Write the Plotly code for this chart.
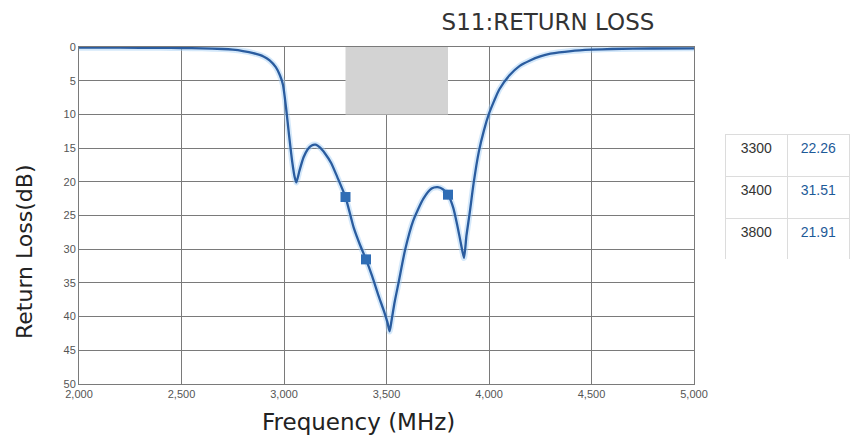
import plotly.graph_objects as go

# ---- data ----
freq_mhz = [2000, 2200, 2400, 2500, 2600, 2700, 2750, 2800, 2850, 2900, 2930, 2960,
            2980, 2995, 3010, 3025, 3040, 3052, 3060, 3075, 3095, 3115, 3135, 3155,
            3175, 3200, 3230, 3260, 3300, 3340, 3370, 3400, 3430, 3460, 3490, 3505,
            3515, 3525, 3540, 3560, 3590, 3630, 3680, 3720, 3750, 3775, 3800, 3825,
            3845, 3862, 3878, 3890, 3905, 3925, 3950, 3975, 4000, 4025, 4050, 4100,
            4150, 4200, 4250, 4300, 4400, 4500, 4600, 4800, 5000]
return_loss_db = [0.1, 0.1, 0.12, 0.15, 0.2, 0.3, 0.4, 0.6, 0.9, 1.4, 2.0, 3.0,
                  4.2, 5.6, 9.0, 13.2, 17.0, 19.3, 20.1, 18.4, 16.4, 15.2, 14.6, 14.5,
                  14.9, 15.8, 17.2, 19.3, 22.26, 26.8, 29.3, 31.51, 34.0, 36.8, 39.4, 40.9,
                  42.2, 40.5, 37.8, 34.8, 30.2, 25.8, 22.5, 21.0, 20.8, 21.1, 21.91, 23.8,
                  26.4, 29.0, 31.3, 28.0, 24.8, 20.2, 15.6, 12.4, 9.9, 8.0, 6.3, 4.2,
                  2.8, 2.0, 1.4, 1.0, 0.6, 0.4, 0.3, 0.22, 0.2]

marker_freq = [3300, 3400, 3800]
marker_db = [22.26, 31.51, 21.91]

band_freq = [3300, 3800]
band_db = [0, 10]

x_ticks = [2000, 2500, 3000, 3500, 4000, 4500, 5000]
y_ticks = [0, 5, 10, 15, 20, 25, 30, 35, 40, 45, 50]

# ---- geometry (page pixels; body margin removed via post_script) ----
W, H = 850, 437
L, T = 79, 47
B = H - 384
R = 0
pw = W - L - R
ph = H - T - B
x_dom_end = (694 - L) / pw

def px_x(p):
    return (p - L) / pw

def px_y(p):
    return (H - B - p) / ph

LINE_COLOR = "#2a5c9f"
GRID = "#7a7a7a"

fig = go.Figure()

# band shading
fig.add_shape(type="rect", xref="x", yref="y",
              x0=band_freq[0], x1=band_freq[1], y0=band_db[0], y1=band_db[1],
              fillcolor="#d3d3d3", line=dict(width=0), layer="above")

# glow behind the line
fig.add_trace(go.Scatter(x=freq_mhz, y=return_loss_db, mode="lines",
                         line=dict(color="rgba(160,205,245,0.45)", width=6, shape="spline", smoothing=0.6),
                         hoverinfo="skip", showlegend=False))
fig.add_trace(go.Scatter(x=freq_mhz, y=return_loss_db, mode="lines",
                         line=dict(color=LINE_COLOR, width=2.3, shape="spline", smoothing=0.6),
                         name="S11", showlegend=False))
fig.add_trace(go.Scatter(x=marker_freq, y=marker_db, mode="markers",
                         marker=dict(symbol="square", size=10, color="#2f6db5"),
                         name="markers", showlegend=False))

# table of marker values
row_h = 42
tbl_top = 134
fig.add_trace(go.Table(
    domain=dict(x=[px_x(725), 1.0], y=[px_y(tbl_top + 3 * row_h), px_y(tbl_top)]),
    columnwidth=[63, 62],
    header=dict(values=[str(marker_freq[0]), f"{marker_db[0]:.2f}"],
                fill_color="white", line_color="#dcdcdc", height=row_h,
                align="center",
                font=dict(family="Liberation Sans, Arial", size=14, color=["#333333", "#1d5a98"])),
    cells=dict(values=[[str(f) for f in marker_freq[1:]], [f"{v:.2f}" for v in marker_db[1:]]],
               fill_color="white", line_color="#dcdcdc", height=row_h,
               align="center",
               font=dict(family="Liberation Sans, Arial", size=14, color=["#333333", "#1d5a98"])),
))

fig.update_layout(
    width=W, height=H,
    margin=dict(l=L, r=R, t=T, b=B, autoexpand=False),
    paper_bgcolor="white", plot_bgcolor="white",
    showlegend=False,
    title=dict(text="S11:RETURN LOSS", x=548 / W, xanchor="center",
               y=1 - 22 / H, yanchor="middle",
               font=dict(family="DejaVu Sans", size=23, color="#333333")),
    xaxis=dict(domain=[0, x_dom_end], range=[2000, 5000], tickvals=x_ticks,
               tickformat=",d", showgrid=True, gridcolor=GRID, gridwidth=1,
               showline=True, linecolor=GRID, linewidth=1, mirror=True,
               zeroline=False, ticks="",
               tickfont=dict(family="Liberation Sans, Arial", size=11, color="#555555")),
    yaxis=dict(range=[50, 0], tickvals=y_ticks, showgrid=True, gridcolor=GRID, gridwidth=1,
               showline=True, linecolor=GRID, linewidth=1, mirror=True,
               zeroline=False, ticks="",
               tickfont=dict(family="Liberation Sans, Arial", size=11, color="#555555")),
    annotations=[
        dict(text="Frequency (MHz)", xref="paper", yref="paper",
             x=px_x(358), y=px_y(422), xanchor="center", yanchor="middle",
             showarrow=False, font=dict(family="DejaVu Sans", size=23, color="#222222")),
        dict(text="Return Loss(dB)", xref="paper", yref="paper", textangle=-90,
             x=px_x(24), y=px_y(252), xanchor="center", yanchor="middle",
             showarrow=False, font=dict(family="DejaVu Sans", size=22, color="#222222")),
    ],
)

fig.write_html("out.html",
               config={"displayModeBar": False},
               post_script="document.body.style.margin='0px';document.body.style.overflow='hidden';")
